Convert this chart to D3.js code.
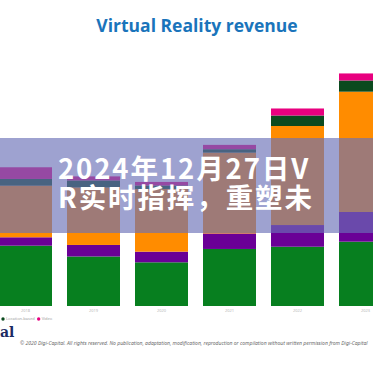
<!DOCTYPE html>
<html>
<head>
<meta charset="utf-8">
<script src="https://cdn.jsdelivr.net/npm/d3@7"></script>
<style>
  html, body { margin: 0; padding: 0; background: #fff; }
  svg { display: block; }
</style>
</head>
<body>
<div id="vrChart"></div>
<script>
// years shown on the axis (chart is cropped, these are the visible ones)
const years = ["2018", "2019", "2020", "2021", "2022", "2023"];

// revenue series, bottom to top of the stack ($B)
const seriesNames = ["Hardware", "Games", "Enterprise", "Location-based", "Video"];
const hardware      = [7.54, 6.19, 5.46, 7.13, 7.41, 8.04];
const games         = [1.05, 1.44, 1.33, 1.94, 2.71, 3.71];
const enterprise    = [6.45, 7.19, 7.84, 10.10, 12.38, 15.04];
const locationBased = [0.84, 0.88, 0.44, 0.43, 1.31, 1.40];
const video         = [1.46, 0.50, 0.44, 0.54, 0.88, 0.88];

const legendNames = ["Location-based", "Video"];
const titleText = "Virtual Reality revenue";
const bannerLines = ["2024年12月27日V", "R实时指挥，重塑未"];
const footerText = "© 2020 Digi-Capital. All rights reserved. No publication, adaptation, modification, reproduction or compilation without written permission from Digi-Capital";

const COLOR = d3.scaleOrdinal(seriesNames, ["#077f1f", "#6a0096", "#ff8c00", "#0b4a1e", "#e8007f"]);

const W = 373, H = 373;
const svg = d3.select("#vrChart").append("svg")
    .attr("width", W)
    .attr("height", H)
    .style("font-family", "'Noto Sans', 'DejaVu Sans', sans-serif");

const rows = years.map((year, i) => ({
    year,
    "Hardware": hardware[i],
    "Games": games[i],
    "Enterprise": enterprise[i],
    "Location-based": locationBased[i],
    "Video": video[i]
}));

const stacked = d3.stack().keys(seriesNames)(rows);

const x = d3.scaleBand()
    .domain(years)
    .range([-8.5, 399.5])
    .paddingInner(0.2206)
    .paddingOuter(0.1103);

const y = d3.scaleLinear()
    .domain([0, 29])
    .range([306, 74]);

// title
svg.append("text")
    .attr("x", 197)
    .attr("y", 32)
    .attr("text-anchor", "middle")
    .attr("fill", "#1a74bb")
    .style("font-family", "'Open Sans', sans-serif")
    .style("font-weight", 700)
    .style("font-size", "17.5px")
    .text(titleText);

// stacked bars
svg.append("g")
    .selectAll("g")
    .data(stacked)
    .join("g")
    .attr("fill", d => COLOR(d.key))
    .selectAll("rect")
    .data(d => d)
    .join("rect")
    .attr("x", d => x(d.data.year))
    .attr("width", x.bandwidth())
    .attr("y", d => y(d[1]))
    .attr("height", d => y(d[0]) - y(d[1]));

// x axis labels, tiny and grey
svg.append("g")
    .selectAll("text")
    .data(years)
    .join("text")
    .attr("x", d => x(d) + x.bandwidth() / 2)
    .attr("y", 312)
    .attr("text-anchor", "middle")
    .attr("fill", "#b8b8b8")
    .style("font-size", "4px")
    .text(d => d);

// legend (only the right end of it is in the frame)
const legend = svg.append("g").attr("transform", "translate(3,319)");
let lx = 0;
legendNames.forEach(name => {
    const item = legend.append("g").attr("transform", `translate(${lx},0)`);
    item.append("circle").attr("r", 1.7).attr("fill", COLOR(name));
    const t = item.append("text")
        .attr("x", 3)
        .attr("y", 1.3)
        .attr("fill", "#a0a0a0")
        .style("font-size", "4px")
        .text(name);
    lx += 3 + t.node().getComputedTextLength() + 4;
});

// logo fragment + copyright line
svg.append("text")
    .attr("x", 0)
    .attr("y", 337)
    .attr("fill", "#1c2b63")
    .style("font-family", "'DejaVu Serif', 'Liberation Serif', serif")
    .style("font-weight", 700)
    .style("font-size", "14px")
    .text("al");

svg.append("text")
    .attr("x", 20)
    .attr("y", 345)
    .attr("fill", "#6a6a6a")
    .style("font-style", "italic")
    .style("font-size", "5.05px")
    .text(footerText);

// translucent banner across the middle
svg.append("rect")
    .attr("x", 0)
    .attr("y", 138)
    .attr("width", W)
    .attr("height", 95)
    .attr("fill", "rgb(106,112,183)")
    .attr("fill-opacity", 0.65);

svg.append("g")
    .selectAll("text")
    .data(bannerLines)
    .join("text")
    .attr("x", 58)
    .attr("y", (d, i) => 179 + i * 29)
    .attr("fill", "#fff")
    .style("font-family", "'Noto Sans CJK SC', sans-serif")
    .style("font-weight", 700)
    .style("font-size", "27.5px")
    .style("letter-spacing", "1.9px")
    .text(d => d);
</script>
</body>
</html>
